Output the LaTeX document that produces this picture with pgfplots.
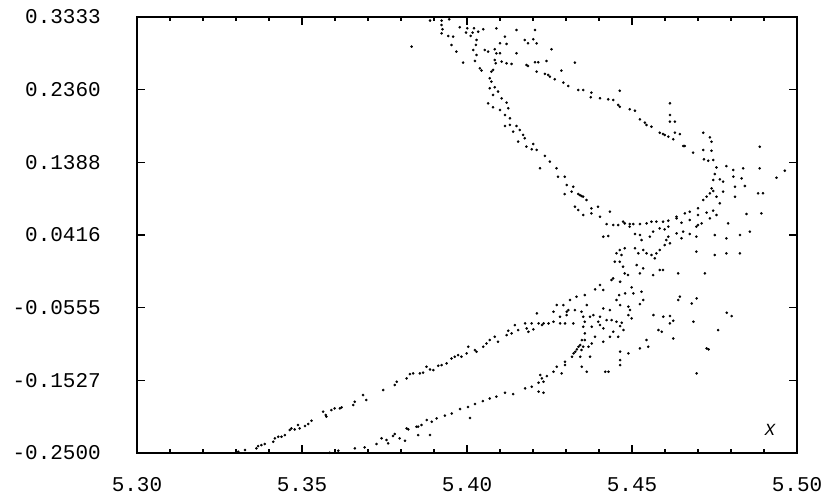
\documentclass[border=0pt]{standalone}
\usepackage{pgfplots}
\pgfplotsset{compat=1.18}
\usepackage{fontspec}
\setmonofont{Liberation Mono}
\begin{document}
\begin{tikzpicture}[x=1pt,y=1pt]
\path[use as bounding box] (0,0) rectangle (832,495);
\begin{axis}[
  at={(137pt,42pt)}, anchor=south west,
  scale only axis, width=660pt, height=436pt,
  xmin=5.30, xmax=5.50, ymin=-0.25, ymax=0.3333,
  axis line style={line width=1.4pt},
  tick align=inside, xtick pos=both, ytick pos=both,
  xticklabel pos=lower, yticklabel pos=left,
  xtick={5.30,5.35,5.40,5.45,5.50},
  xticklabels={5.30,5.35,5.40,5.45,5.50},
  ytick={-0.25,-0.1527,-0.0555,0.0416,0.1388,0.2360,0.3333},
  yticklabels={-0.2500,-0.1527,-0.0555,0.0416,0.1388,0.2360,0.3333},
  minor x tick num=4, minor y tick num=4,
  major tick length=8pt, minor tick length=4pt,
  every tick/.style={black, line width=1.2pt},
  ticklabel style={font=\fontsize{21}{24}\selectfont\ttfamily, inner sep=0pt},
  xticklabel style={anchor=north, yshift=-24pt},
  yticklabel style={anchor=east, xshift=-36pt},
]
\addplot[only marks, mark=*, mark size=1.1pt, black] table {
x y
5.3888 0.3285
5.3923 0.3285
5.3946 0.3302
5.3923 0.3226
5.3926 0.3169
5.3923 0.3115
5.3943 0.3079
5.3958 0.3070
5.3953 0.2959
5.3968 0.2870
5.3978 0.3195
5.4001 0.3182
5.3997 0.3124
5.4017 0.3124
5.4011 0.3079
5.4021 0.3182
5.4034 0.3137
5.4049 0.3169
5.4029 0.3026
5.4027 0.2959
5.4019 0.2892
5.4029 0.2825
5.4024 0.2745
5.4039 0.2647
5.4044 0.2616
5.3988 0.2723
5.4054 0.2892
5.4064 0.2870
5.4084 0.2901
5.4089 0.2847
5.4100 0.2847
5.4084 0.2758
5.4087 0.2714
5.4105 0.2736
5.4120 0.2714
5.4135 0.2705
5.4150 0.2847
5.4180 0.2691
5.4185 0.2678
5.4206 0.2727
5.4216 0.2727
5.4241 0.2745
5.4211 0.2602
5.4236 0.2571
5.4246 0.2558
5.4251 0.2535
5.4266 0.2500
5.4292 0.2455
5.4307 0.2410
5.4337 0.2357
5.4286 0.2616
5.4327 0.2723
5.4074 0.2602
5.4079 0.2625
5.4069 0.2513
5.4074 0.2468
5.4069 0.2379
5.4084 0.2393
5.4094 0.2335
5.4079 0.2290
5.4105 0.2245
5.4120 0.2187
5.4125 0.2111
5.4064 0.2178
5.4079 0.2125
5.4100 0.2089
5.4115 0.2022
5.4130 0.1978
5.4130 0.1889
5.4115 0.1875
5.4150 0.1875
5.4160 0.1822
5.4140 0.1799
5.4170 0.1755
5.4175 0.1710
5.4180 0.1599
5.4155 0.1666
5.4201 0.1634
5.4196 0.1563
5.4211 0.1554
5.4236 0.1474
5.4251 0.1398
5.4221 0.1309
5.4271 0.1309
5.4089 0.3182
5.4115 0.3070
5.4100 0.2981
5.4120 0.2972
5.4175 0.3026
5.4185 0.2981
5.4201 0.3035
5.4211 0.2981
5.4150 0.3160
5.4206 0.3160
5.4256 0.2901
5.3832 0.2937
5.4296 0.1196
5.4276 0.1196
5.4302 0.1085
5.4322 0.1063
5.4317 0.0996
5.4296 0.0964
5.4337 0.0964
5.4347 0.0938
5.4327 0.0795
5.4337 0.0750
5.4352 0.2356
5.4377 0.2321
5.4375 0.2258
5.4403 0.2245
5.4428 0.2231
5.4443 0.2222
5.4458 0.2156
5.4463 0.2133
5.4493 0.2098
5.4509 0.2080
5.4524 0.1964
5.4539 0.1919
5.4544 0.1888
5.4559 0.1866
5.4584 0.1785
5.4594 0.1767
5.4599 0.1754
5.4610 0.1732
5.4625 0.1696
5.4630 0.1785
5.4645 0.1767
5.4655 0.1607
5.4660 0.1607
5.4685 0.1518
5.4716 0.1553
5.4716 0.1785
5.4736 0.1723
5.4741 0.1665
5.4718 0.1429
5.4731 0.1411
5.4741 0.1544
5.4746 0.1420
5.4615 0.2178
5.4615 0.2022
5.4630 0.1933
5.4615 0.1933
5.4463 0.2347
5.4756 0.1321
5.4751 0.1232
5.4746 0.1152
5.4766 0.1161
5.4776 0.1130
5.4741 0.1040
5.4746 0.1005
5.4736 0.0974
5.4726 0.0929
5.4716 0.0884
5.4700 0.0773
5.4675 0.0728
5.4660 0.0706
5.4635 0.0661
5.4610 0.0608
5.4594 0.0595
5.4574 0.0595
5.4559 0.0595
5.4544 0.0572
5.4524 0.0563
5.4504 0.0563
5.4493 0.0563
5.4478 0.0572
5.4458 0.0550
5.4443 0.0550
5.4423 0.0563
5.4403 0.0661
5.4377 0.0706
5.4397 0.0795
5.4377 0.0773
5.4362 0.0884
5.4352 0.0929
5.4342 0.0951
5.4352 0.0684
5.4433 0.0728
5.4413 0.0394
5.4428 0.0403
5.4786 0.1339
5.4807 0.1286
5.4807 0.1197
5.4837 0.1308
5.4887 0.1308
5.4832 0.1174
5.4812 0.1063
5.4842 0.1072
5.4776 0.0996
5.4756 0.0929
5.4766 0.0840
5.4746 0.0742
5.4756 0.0684
5.4812 0.0929
5.4882 0.0974
5.4897 0.0974
5.4847 0.0697
5.4892 0.0706
5.4938 0.1183
5.4963 0.1277
5.4887 0.1598
5.4827 0.0416
5.4857 0.0461
5.4791 0.0572
5.4751 0.0416
5.4786 0.0372
5.4695 0.0193
5.4751 0.0149
5.4786 0.0171
5.4827 0.0171
5.4473 0.0595
5.4493 0.0528
5.4509 0.0429
5.4524 0.0416
5.4529 0.0349
5.4554 0.0394
5.4564 0.0461
5.4584 0.0505
5.4599 0.0492
5.4610 0.0528
5.4635 0.0639
5.4650 0.0581
5.4675 0.0617
5.4695 0.0528
5.4700 0.0550
5.4711 0.0572
5.4736 0.0639
5.4726 0.0715
5.4700 0.0684
5.4695 0.0394
5.4675 0.0429
5.4655 0.0461
5.4650 0.0372
5.4635 0.0438
5.4610 0.0394
5.4604 0.0349
5.4615 0.0305
5.4599 0.0282
5.4584 0.0215
5.4574 0.0171
5.4569 0.0104
5.4559 0.0149
5.4544 0.0171
5.4534 0.0215
5.4519 0.0171
5.4509 0.0238
5.4478 0.0238
5.4463 0.0215
5.4468 0.0149
5.4453 0.0171
5.4448 0.0059
5.4463 0.0059
5.4473 -0.0008
5.4478 -0.0097
5.4514 0.0015
5.4524 -0.0097
5.4534 -0.0030
5.4564 -0.0119
5.4584 -0.0052
5.4594 -0.0052
5.4640 -0.0097
5.4488 -0.0119
5.4443 -0.0164
5.4721 -0.0097
5.4312 -0.0454
5.4332 -0.0409
5.4357 -0.0387
5.4363 -0.0521
5.4388 -0.0311
5.4403 -0.0253
5.4413 -0.0320
5.4438 -0.0186
5.4464 -0.0209
5.4479 -0.0365
5.4499 -0.0284
5.4504 -0.0365
5.4529 -0.0343
5.4534 -0.0454
5.4524 -0.0508
5.4461 -0.0387
5.4453 -0.0454
5.4464 -0.0521
5.4489 -0.0543
5.4494 -0.0588
5.4499 -0.0699
5.4433 -0.0588
5.4413 -0.0566
5.4403 -0.0677
5.4398 -0.0744
5.4383 -0.0655
5.4373 -0.0677
5.4352 -0.0677
5.4357 -0.0744
5.4347 -0.0610
5.4327 -0.0588
5.4322 -0.0766
5.4352 -0.0811
5.4357 -0.0900
5.4378 -0.0811
5.4403 -0.0789
5.4413 -0.0833
5.4423 -0.0722
5.4438 -0.0722
5.4453 -0.0744
5.4469 -0.0757
5.4464 -0.0802
5.4474 -0.0855
5.4443 -0.0878
5.4433 -0.0945
5.4413 -0.1012
5.4388 -0.0945
5.4378 -0.1034
5.4357 -0.0989
5.4352 -0.1078
5.4368 -0.1078
5.4347 -0.1123
5.4458 -0.0945
5.4489 -0.0655
5.4544 -0.0989
5.4549 -0.1078
5.4524 -0.1101
5.4565 -0.0655
5.4580 -0.0855
5.4590 -0.0878
5.4595 -0.0677
5.4615 -0.0668
5.4625 -0.0731
5.4615 -0.0766
5.4625 -0.0967
5.4640 -0.0454
5.4645 -0.0409
5.4681 -0.0499
5.4696 -0.0432
5.4686 -0.0744
5.4761 -0.0855
5.4787 -0.0623
5.4802 -0.0668
5.4726 -0.1101
5.4176 -0.0766
5.4181 -0.0833
5.4186 -0.0878
5.4201 -0.0846
5.4212 -0.0632
5.4196 -0.0766
5.4217 -0.0766
5.4227 -0.0788
5.4232 -0.0766
5.4247 -0.0766
5.4262 -0.0744
5.4272 -0.0521
5.4262 -0.0610
5.4282 -0.0677
5.4292 -0.0521
5.4302 -0.0610
5.4282 -0.0766
5.4297 -0.0766
5.4302 -0.0655
5.4307 -0.0588
5.4176 -0.1636
5.4196 -0.1613
5.4217 -0.1680
5.4232 -0.1694
5.4217 -0.1560
5.4227 -0.1502
5.4222 -0.1457
5.4242 -0.1471
5.4232 -0.1547
5.4262 -0.1413
5.4272 -0.1346
5.4287 -0.1435
5.4297 -0.1279
5.4297 -0.1324
5.4318 -0.1212
5.4323 -0.1167
5.4328 -0.1145
5.4333 -0.1114
5.4338 -0.1078
5.4343 -0.1056
5.4348 -0.0989
5.4343 -0.1212
5.4348 -0.1346
5.4363 -0.1413
5.4373 -0.1212
5.4419 -0.1413
5.4429 -0.1413
5.4464 -0.1145
5.4464 -0.1257
5.4464 -0.1324
5.4489 -0.1167
5.4696 -0.1435
5.4732 -0.1114
5.3746 -0.1658
5.3781 -0.1591
5.3787 -0.1547
5.3817 -0.1502
5.3827 -0.1444
5.3837 -0.1435
5.3857 -0.1435
5.3867 -0.1426
5.3877 -0.1346
5.3888 -0.1382
5.3898 -0.1391
5.3913 -0.1333
5.3923 -0.1324
5.3938 -0.1301
5.3953 -0.1235
5.3963 -0.1212
5.3973 -0.1190
5.3983 -0.1212
5.3999 -0.1168
5.4004 -0.1078
5.4024 -0.1123
5.4029 -0.1145
5.4049 -0.1078
5.4059 -0.1034
5.4069 -0.0989
5.4084 -0.0945
5.4094 -0.1012
5.4120 -0.0922
5.4125 -0.0864
5.4135 -0.0900
5.4145 -0.0789
5.4155 -0.0855
5.4069 -0.1770
5.4089 -0.1747
5.4115 -0.1694
5.4140 -0.1712
5.3307 -0.2483
5.3327 -0.2460
5.3362 -0.2438
5.3367 -0.2407
5.3377 -0.2394
5.3387 -0.2380
5.3413 -0.2349
5.3418 -0.2304
5.3428 -0.2282
5.3438 -0.2282
5.3448 -0.2260
5.3463 -0.2193
5.3468 -0.2171
5.3478 -0.2184
5.3488 -0.2126
5.3493 -0.2171
5.3509 -0.2139
5.3519 -0.2113
5.3529 -0.2068
5.3564 -0.1948
5.3572 -0.1992
5.3574 -0.2014
5.3589 -0.1925
5.3599 -0.1903
5.3615 -0.1903
5.3620 -0.1890
5.3655 -0.1858
5.3660 -0.1814
5.3685 -0.1725
5.3695 -0.1791
5.3584 -0.2496
5.3610 -0.2469
5.3660 -0.2438
5.3690 -0.2425
5.3726 -0.2380
5.3741 -0.2304
5.3756 -0.2327
5.3761 -0.2371
5.3776 -0.2273
5.3781 -0.2246
5.3796 -0.2304
5.3812 -0.2336
5.3822 -0.2184
5.3852 -0.2148
5.3852 -0.2260
5.3817 -0.2171
5.3847 -0.2149
5.3862 -0.2126
5.3878 -0.2060
5.3893 -0.2082
5.3908 -0.2037
5.3888 -0.2260
5.3933 -0.2000
5.3954 -0.1972
5.3979 -0.1912
5.4003 -0.1885
5.4024 -0.1845
5.4048 -0.1805
5.4009 -0.2032
};
\node[font=\fontsize{17}{20}\selectfont\ttfamily\itshape] at (axis cs:5.4918,-0.2193) {X};
\end{axis}
\end{tikzpicture}
\end{document}
